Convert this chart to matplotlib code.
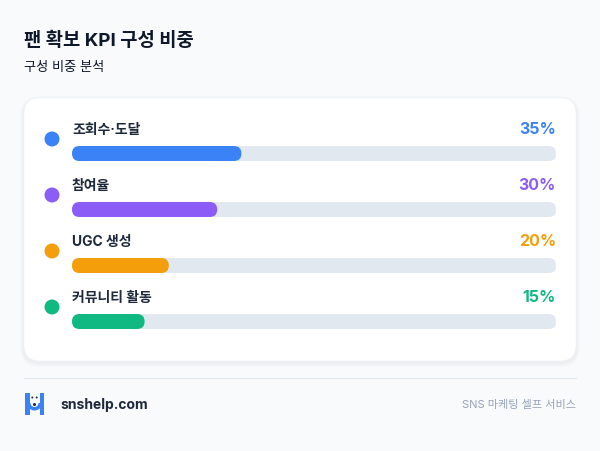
import matplotlib
matplotlib.use("Agg")
import matplotlib.pyplot as plt
from matplotlib.patches import FancyBboxPatch, Circle, Rectangle, Wedge

plt.rcParams['font.family'] = ['Inter', 'Noto Sans CJK KR', 'DejaVu Sans']

# data
labels = ['조회수·도달', '참여율', 'UGC 생성', '커뮤니티 활동']
values = [35, 30, 20, 15]
colors = ['#3B82F6', '#8B5CF6', '#F59E0B', '#10B981']

title = '팬 확보 KPI 구성 비중'
subtitle = '구성 비중 분석'
brand = 'snshelp.com'
tagline = 'SNS 마케팅 셀프 서비스'

W, H = 600, 451
fig = plt.figure(figsize=(W / 100, H / 100), dpi=100)
fig.patch.set_facecolor('#F8FAFC')
ax = fig.add_axes([0, 0, 1, 1])
ax.set_xlim(0, W)
ax.set_ylim(H, 0)
ax.axis('off')

# title block
ax.text(24, 41, title, fontsize=13.5, fontweight='bold', color='#0F172A', va='center', ha='left')
ax.text(24, 68, subtitle, fontsize=9.5, color='#0F172A', va='center', ha='left')

# card with soft shadow
for i in range(4):
    off = 4 - i
    ax.add_patch(FancyBboxPatch((24 - off, 98 - off + 2), 552 + 2 * off, 263 + 2 * off,
                                boxstyle='round,pad=0,rounding_size=%d' % (16 + off),
                                fc='#0F172A', ec='none', alpha=0.01, zorder=1))
ax.add_patch(FancyBboxPatch((24, 98), 552, 263, boxstyle='round,pad=0,rounding_size=16',
                            fc='white', ec='#F1F5F9', lw=0.5, zorder=2))

# rows
track_x0, track_x1 = 72, 556
track_w = track_x1 - track_x0
bar_h = 15
row0, step = 139, 56
for i, (lab, val, col) in enumerate(zip(labels, values, colors)):
    yc = row0 + i * step
    ax.add_patch(Circle((52, yc), 7.5, fc=col, ec='none', zorder=3))
    ax.text(track_x0, yc - 9, lab, fontsize=10, fontweight='bold', color='#1E293B',
            va='center', ha='left', zorder=3)
    ax.text(track_x1, yc - 9, '%d%%' % val, fontsize=11.5, fontweight='bold', color=col,
            va='center', ha='right', zorder=3)
    by = yc + 7
    ax.add_patch(FancyBboxPatch((track_x0, by), track_w, bar_h,
                                boxstyle='round,pad=0,rounding_size=7.5',
                                fc='#E2E8F0', ec='none', zorder=3))
    ax.add_patch(FancyBboxPatch((track_x0, by), track_w * val / 100, bar_h,
                                boxstyle='round,pad=0,rounding_size=7.5',
                                fc=col, ec='none', zorder=4))

# footer
ax.plot([24, 576], [378, 378], color='#E2E8F0', lw=0.8)

# logo
ax.add_patch(Rectangle((25, 393), 4.5, 22, fc='#3B82F6', ec='none'))
ax.add_patch(Rectangle((39.5, 393), 4.5, 22, fc='#3B82F6', ec='none'))
ax.add_patch(Wedge((34.5, 403), 7.5, 0, 180, width=3.5, fc='#3B82F6', ec='none'))
ax.add_patch(Circle((32.3, 397.5), 1.0, fc='#1E293B', ec='none'))
ax.add_patch(Circle((36.7, 397.5), 1.0, fc='#1E293B', ec='none'))
ax.add_patch(Circle((34.5, 404.5), 1.5, fc='#1E293B', ec='none', zorder=5))

ax.text(60, 405, brand, fontsize=10, fontweight='bold', color='#1E293B', va='center', ha='left')
ax.text(576, 405, tagline, fontsize=8, color='#94A3B8', va='center', ha='right')

fig.savefig('out.png', dpi=100, facecolor=fig.get_facecolor())
